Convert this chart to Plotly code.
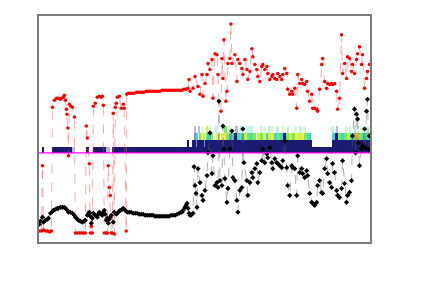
import plotly.graph_objects as go

# ---- data (sample index, value) ----
red_x = [0, 2, 3, 4, 6, 8, 10, 12, 13, 15, 17, 19, 21, 22, 24, 25, 26, 27, 27.5, 28.5, 29, 30, 31.5, 33, 35,
         36, 38, 40, 42, 44, 46, 47, 48, 50, 51, 52, 53, 54, 56, 58, 60, 62, 63, 64, 65, 67, 68, 69, 70, 71, 72, 73,
         74, 75, 76, 77, 78, 80, 82, 84, 85, 87, 87.5,
         89, 91, 93, 95, 97, 99, 101, 103, 105, 107, 109, 111, 113, 115, 117, 119, 121, 123, 125, 127, 129, 131,
         133, 135, 137, 139, 141, 143, 145, 147, 149,
         150, 151, 154, 156, 159, 161, 163, 164, 166, 168, 169, 171, 173, 174, 176, 178, 179, 180, 182, 183, 184,
         185, 187, 188, 189, 191, 192, 193, 196, 198, 199, 201, 203, 204, 206, 208, 209, 211, 213, 214, 216, 218,
         219, 221, 223, 224, 226, 228, 229, 231, 233, 234, 236, 238, 239, 241, 243, 244, 246, 248, 249, 251, 253,
         254, 256, 258, 259, 261, 263, 264, 266, 268, 269, 271, 273, 274, 276, 278, 279, 281, 283, 284, 286, 288,
         289, 291, 293, 294, 296, 298, 299, 301, 303, 304, 306, 308, 309, 311, 313, 314, 316, 318, 319, 321, 323,
         324, 326, 328, 329, 331]
red_y = [11, 11, 77, 12, 11, 11, 10, 11, 136, 143, 145, 145, 144, 145, 146, 148, 143, 134, 129, 115, 87, 139, 137, 136, 126,
         9, 9, 9, 9, 9, 9, 117, 105, 79, 9, 16, 9, 137, 140, 146, 147, 146, 147, 138, 9, 9, 9, 77, 55, 47, 9, 9,
         130, 8, 136, 140, 146, 147, 135, 139, 135, 11, 149,
         150, 150, 150, 150, 151, 151, 151, 151, 151, 152, 152, 152, 152, 152, 152, 152, 152, 153, 153, 153, 153, 153,
         153, 153, 153, 153, 153, 153, 154, 154, 155,
         164, 152, 155, 167, 157, 149, 169, 147, 160, 169, 180, 174, 184, 145, 190, 189, 169, 142, 132, 185, 165,
         204, 142, 152, 180, 185, 220, 180, 189, 162, 184, 180, 175, 169, 184, 174, 164, 172, 195, 187, 179, 174,
         167, 162, 177, 179, 174, 177, 170, 164, 167, 169, 165, 164, 170, 167, 164, 169, 175, 170, 154, 149, 152,
         149, 155, 135, 169, 160, 164, 160, 159, 162, 152, 142, 149, 135, 135, 134, 132, 154, 179, 185, 162, 155,
         160, 159, 160, 159, 160, 152, 134, 145, 209, 170, 180, 165, 187, 185, 172, 179, 170, 184, 190, 197, 179,
         189, 155, 165, 172, 179]

black_x = [0, 1, 3, 4, 6, 8, 9, 11, 13, 14, 16, 18, 19, 21, 23, 25, 26, 28, 29, 31, 33, 35, 36, 38, 39, 41, 43, 45,
           46, 48, 49, 50, 51, 52, 53, 54, 56, 58, 59, 60, 62, 63, 64, 65, 66, 67, 68, 69, 70, 71, 72, 74, 75, 77,
           78, 80, 81, 83, 84, 86, 88,
           90, 92, 94, 96, 98, 100, 102, 104, 106, 108, 110, 112, 114, 116, 118, 120, 122, 124, 126, 128, 130, 132,
           134, 136, 138, 140, 142, 143, 144,
           146, 147, 148, 149, 150, 151, 152, 154, 155, 156, 157, 158, 159, 161, 163, 164, 166, 168, 169, 171, 173,
           174, 176, 178, 179, 180, 181, 183, 184, 185, 186, 188, 189, 191, 193, 194, 196, 198, 199, 201, 203, 204,
           205, 208, 209, 211, 213, 214, 216, 218, 219, 221, 223, 224, 226, 228, 229, 231, 233, 234, 236, 238, 239,
           241, 243, 244, 246, 248, 249, 251, 253, 254, 256, 258, 259, 261, 263, 264, 266, 268, 269, 271, 273, 274,
           276, 278, 279, 281, 283, 284, 286, 288, 289, 291, 293, 294, 296, 298, 299, 301, 303, 304, 306, 308, 309,
           311, 313, 314, 316, 317, 318, 319, 320, 321, 323, 324, 326, 327, 328, 329, 330, 331]
black_y = [18, 21, 25, 20, 22, 23, 24, 29, 31, 32, 33, 34, 34, 35, 35, 35, 34, 32, 30, 30, 29, 27, 25, 23, 22, 21, 20, 21,
           22, 27, 29, 30, 26, 19, 24, 29, 27, 25, 28, 30, 28, 27, 30, 32, 28, 22, 24, 19, 23, 25, 27, 20, 30, 28,
           29, 31, 32, 33, 34, 32, 30,
           30, 30, 29, 29, 29, 28, 28, 28, 27, 27, 27, 27, 27, 26, 26, 26, 26, 26, 26, 26, 26, 27,
           27, 27, 28, 29, 30, 30, 32,
           35, 37, 39, 34, 29, 27, 27, 29, 76, 57, 49, 35, 74, 60, 47, 42, 52, 67, 90, 110, 69,
           87, 57, 60, 55, 142, 62, 57, 117, 94, 64, 40, 54, 94, 112, 65, 62, 42, 30, 52, 55, 114,
           80, 62, 47, 60, 70, 65, 74, 79, 60, 70, 82, 94, 80, 89, 85, 95, 80, 74, 84, 80, 79,
           77, 75, 82, 102, 75, 57, 47, 77, 75, 74, 47, 87, 70, 74, 69, 65, 72, 67, 49, 40, 39,
           37, 40, 57, 62, 50, 49, 74, 84, 69, 60, 55, 79, 70, 52, 47, 45, 54, 82, 59, 40, 47,
           50, 62, 107, 134, 90, 129, 124, 100, 77, 94, 97, 114, 95, 132, 144, 94, 107]

baseline_value = 90
band_edges = [90, 96, 103, 110, 117]   # value boundaries of the four band rows

# spans: (start index, end index, level)
band_row0 = [(3, 5, 0), (13, 33, 0), (33, 36, 9), (47, 50, 0), (54, 67, 0), (67, 71, 9), (73, 331, 0)]
band_row1 = [(148, 150, 0), (153, 157, 0), (157, 158, 1), (158, 165, 0), (165, 166, 1), (166, 273, 0),
             (293, 331, 0)]
band_row2 = [(155, 157, 1), (157, 159, 2), (160, 162, 3), (162, 164, 5), (164, 166, 4), (167, 169, 3),
             (169, 171, 2), (171, 174, 3), (175, 177, 8), (177, 180, 5), (182, 185, 4), (185, 187, 5),
             (187, 190, 3), (190, 193, 1), (193, 195, 2), (195, 198, 0), (198, 200, 2), (200, 203, 3),
             (203, 205, 2), (205, 208, 4), (208, 211, 3), (211, 213, 2), (213, 217, 3), (218, 221, 4),
             (221, 224, 3), (224, 227, 5), (227, 229, 2), (229, 232, 4), (232, 235, 5), (235, 238, 2),
             (238, 241, 3), (241, 244, 2), (244, 247, 0), (247, 250, 3), (250, 253, 4), (253, 256, 3),
             (256, 259, 5), (259, 262, 4), (262, 265, 5), (265, 268, 3), (268, 272, 2),
             (293, 296, 2), (296, 299, 0), (299, 302, 3), (302, 305, 2), (305, 308, 3), (308, 311, 4),
             (311, 314, 2), (314, 317, 3), (317, 320, 6), (320, 323, 3), (323, 326, 2), (326, 329, 3),
             (329, 331, 2)]
band_row3 = [(155, 157, 9), (159, 160, 9), (162, 164, 8), (167, 169, 4), (171, 172, 8), (177, 179, 7),
             (186, 188, 3), (190, 192, 8), (197, 199, 9), (202, 204, 7), (207, 214, 7), (221, 223, 7),
             (224, 227, 8), (229, 232, 7), (233, 235, 8), (237, 240, 7), (243, 246, 8), (248, 250, 7),
             (256, 258, 8), (260, 263, 7), (265, 267, 8), (293, 295, 7), (297, 299, 9), (306, 309, 8),
             (310, 312, 7), (317, 320, 7), (322, 324, 8), (326, 329, 7), (330, 331, 8)]

palette = {0: '#1b1b72', 1: '#8a8ccc', 2: '#3cd8d0', 3: '#70ec60', 4: '#c6f248', 5: '#eef044',
           6: '#f0a838', 7: '#bff2ee', 8: '#dcf8c4', 9: '#b8b8e4'}

fig = go.Figure()

for r, spans in enumerate([band_row0, band_row1, band_row2, band_row3]):
    lo, hi = band_edges[r], band_edges[r + 1]
    fig.add_trace(go.Bar(
        x=[(a + b) / 2 for a, b, _ in spans],
        width=[b - a for a, b, _ in spans],
        y=[hi - lo] * len(spans),
        base=[lo] * len(spans),
        marker=dict(color=[palette[l] for _, _, l in spans], line=dict(width=0)),
        showlegend=False, hoverinfo='skip'))

fig.add_trace(go.Scatter(
    x=red_x, y=red_y, mode='lines+markers',
    line=dict(color='rgba(255,70,70,0.6)', width=0.8, dash='dash'),
    marker=dict(color='#ff0000', size=3.5, symbol='circle'),
    showlegend=False))

fig.add_trace(go.Scatter(
    x=black_x, y=black_y, mode='lines+markers',
    line=dict(color='rgba(90,90,90,0.6)', width=0.8, dash='dash'),
    marker=dict(color='#000000', size=4, symbol='diamond'),
    showlegend=False))

fig.add_hline(y=baseline_value, line=dict(color='#ff00ff', width=1.3))

axis_style = dict(showline=True, mirror=True, linecolor='#7a7a7a', linewidth=1.5,
                  showgrid=False, zeroline=False, showticklabels=False, ticks='')
fig.update_layout(
    width=417, height=273,
    margin=dict(l=31, r=55, t=6, b=39),
    paper_bgcolor='white', plot_bgcolor='white',
    barmode='overlay', bargap=0,
    xaxis=dict(range=[-0.5, 331.5], **axis_style),
    yaxis=dict(range=[0, 228], **axis_style),
)

fig.write_html("out.html")
